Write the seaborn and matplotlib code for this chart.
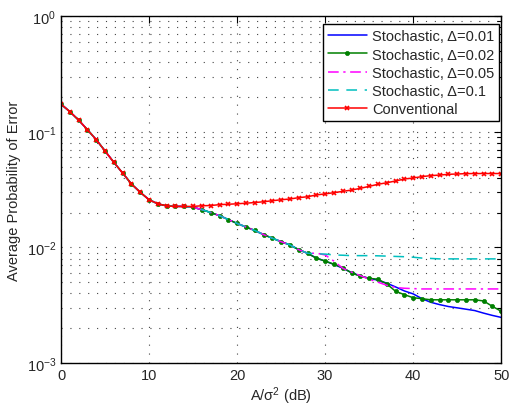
import numpy as np
import pandas as pd
import matplotlib
matplotlib.use("Agg")
import matplotlib.pyplot as plt
import seaborn as sns
from matplotlib.ticker import LogLocator, NullFormatter

# ---------------- data ----------------
snr_db = list(range(0, 51))

conventional = [0.173, 0.149, 0.126, 0.104, 0.0853, 0.0681, 0.0543, 0.0439, 0.0353, 0.0299,
                0.0258, 0.0238, 0.0228, 0.0226, 0.0226, 0.0226, 0.0229, 0.0230, 0.0234, 0.0236,
                0.0238, 0.0241, 0.0244, 0.0248, 0.0253, 0.0258, 0.0262, 0.0269, 0.0274, 0.0284,
                0.0290, 0.0297, 0.0305, 0.0313, 0.0324, 0.0337, 0.0351, 0.0362, 0.0375, 0.0390,
                0.0398, 0.0409, 0.0417, 0.0422, 0.0428, 0.0431, 0.0434, 0.0435, 0.0435, 0.0435,
                0.0435]

stoch_002 = [0.173, 0.149, 0.126, 0.104, 0.0853, 0.0681, 0.0543, 0.0439, 0.0353, 0.0299,
             0.0258, 0.0238, 0.0228, 0.0226, 0.0226, 0.0222, 0.0212, 0.0200, 0.0188, 0.0174,
             0.0161, 0.0150, 0.0140, 0.0129, 0.0120, 0.0112, 0.0105, 0.00955, 0.00889, 0.00805,
             0.00762, 0.00714, 0.00668, 0.00601, 0.00563, 0.00540, 0.00530, 0.00483, 0.00417, 0.00390,
             0.00367, 0.00360, 0.00352, 0.00352, 0.00352, 0.00352, 0.00352, 0.00352, 0.00344, 0.00309,
             0.00280]

stoch_001 = [0.173, 0.149, 0.126, 0.104, 0.0853, 0.0681, 0.0543, 0.0439, 0.0353, 0.0299,
             0.0258, 0.0238, 0.0228, 0.0226, 0.0226, 0.0222, 0.0212, 0.0200, 0.0188, 0.0174,
             0.0161, 0.0150, 0.0140, 0.0129, 0.0120, 0.0112, 0.0105, 0.00955, 0.00889, 0.00810,
             0.00760, 0.00712, 0.00660, 0.00605, 0.00565, 0.00540, 0.00520, 0.00490, 0.00455, 0.00420,
             0.00396, 0.00360, 0.00335, 0.00320, 0.00308, 0.00300, 0.00292, 0.00284, 0.00270, 0.00258,
             0.00248]

stoch_005 = [0.173, 0.149, 0.126, 0.104, 0.0853, 0.0681, 0.0543, 0.0439, 0.0353, 0.0299,
             0.0258, 0.0238, 0.0228, 0.0226, 0.0226, 0.0222, 0.0212, 0.0200, 0.0188, 0.0174,
             0.0161, 0.0150, 0.0140, 0.0129, 0.0120, 0.0112, 0.0105, 0.00955, 0.00889, 0.00890,
             0.00860, 0.00760, 0.00660, 0.00610, 0.00570, 0.00530, 0.00500, 0.00470, 0.00450, 0.00443,
             0.00440, 0.00437, 0.00437, 0.00437, 0.00437, 0.00437, 0.00437, 0.00437, 0.00437, 0.00437,
             0.00437]

stoch_01 = [0.173, 0.149, 0.126, 0.104, 0.0853, 0.0681, 0.0543, 0.0439, 0.0353, 0.0299,
            0.0258, 0.0238, 0.0228, 0.0226, 0.0226, 0.0222, 0.0212, 0.0200, 0.0188, 0.0174,
            0.0161, 0.0150, 0.0140, 0.0129, 0.0120, 0.0112, 0.0105, 0.00955, 0.00889, 0.00880,
            0.00875, 0.00860, 0.00855, 0.00848, 0.00848, 0.00848, 0.00845, 0.00840, 0.00835, 0.00830,
            0.00822, 0.00808, 0.00802, 0.00795, 0.00795, 0.00795, 0.00795, 0.00795, 0.00795, 0.00795,
            0.00795]

labels = ["Stochastic, Δ=0.01", "Stochastic, Δ=0.02", "Stochastic, Δ=0.05",
          "Stochastic, Δ=0.1", "Conventional"]

# ---------------- style ----------------
sns.set_style("white")
plt.rcParams["font.family"] = ["Liberation Sans", "DejaVu Sans"]
plt.rcParams["mathtext.fontset"] = "custom"
plt.rcParams["mathtext.rm"] = "Liberation Sans"
plt.rcParams["mathtext.it"] = "Liberation Sans:italic"
plt.rcParams["mathtext.default"] = "rm"

fig = plt.figure(figsize=(5.13, 4.06), dpi=100)
ax = fig.add_axes([0.119, 0.1034, 0.858, 0.8546])

series = [
    (stoch_001, labels[0], dict(color="#0000ff", linestyle="-", marker=None)),
    (stoch_002, labels[1], dict(color="#008000", linestyle="-", marker="o", markersize=3.0,
                                markeredgecolor="#008000", markerfacecolor="#008000",
                                markeredgewidth=0.5)),
    (stoch_005, labels[2], dict(color="#ff00ff", linestyle=(0, (7, 3, 1.5, 3)), marker=None)),
    (stoch_01, labels[3], dict(color="#00bfbf", linestyle=(0, (7, 5)), marker=None)),
    (conventional, labels[4], dict(color="#ff0000", linestyle="-", marker="x", markersize=3.5,
                                   markeredgecolor="#ff0000", markeredgewidth=1.2)),
]

for vals, lab, kw in series:
    df = pd.DataFrame({"snr": snr_db, "pe": vals})
    sns.lineplot(data=df, x="snr", y="pe", ax=ax, linewidth=1.1, label=lab, **kw)

ax.set_yscale("log")
ax.set_xlim(0, 50)
ax.set_ylim(1e-3, 1)
ax.set_xticks([0, 10, 20, 30, 40, 50])
ax.yaxis.set_major_locator(LogLocator(base=10, numticks=10))
ax.yaxis.set_minor_locator(LogLocator(base=10, subs=np.arange(2, 10), numticks=20))
ax.yaxis.set_minor_formatter(NullFormatter())

grid_kw = dict(color="#444444", linestyle=(0, (1, 7)), linewidth=0.8)
ax.grid(True, which="major", axis="both", **grid_kw)
ax.grid(True, which="minor", axis="y", **grid_kw)
ax.set_axisbelow(True)

ax.tick_params(which="both", direction="in", top=True, right=True, labelsize=10.5,
               color="black", width=0.8)
ax.tick_params(which="major", length=5)
ax.tick_params(which="minor", length=3)
for s in ax.spines.values():
    s.set_color("black")
    s.set_linewidth(1.0)

ax.set_xlabel(r"A/$\sigma^{2}$ (dB)", fontsize=10.5, labelpad=2)
ax.set_ylabel("Average Probability of Error", fontsize=10.5, labelpad=4)

leg = ax.legend(loc="upper right", bbox_to_anchor=(0.996, 0.976), fontsize=10.5,
                frameon=True, fancybox=False, edgecolor="black", framealpha=1,
                handlelength=2.7, handletextpad=0.35, borderpad=0.35, labelspacing=0.28,
                borderaxespad=0.0)
leg.get_frame().set_linewidth(1.0)

fig.savefig("out.png", dpi=100)
